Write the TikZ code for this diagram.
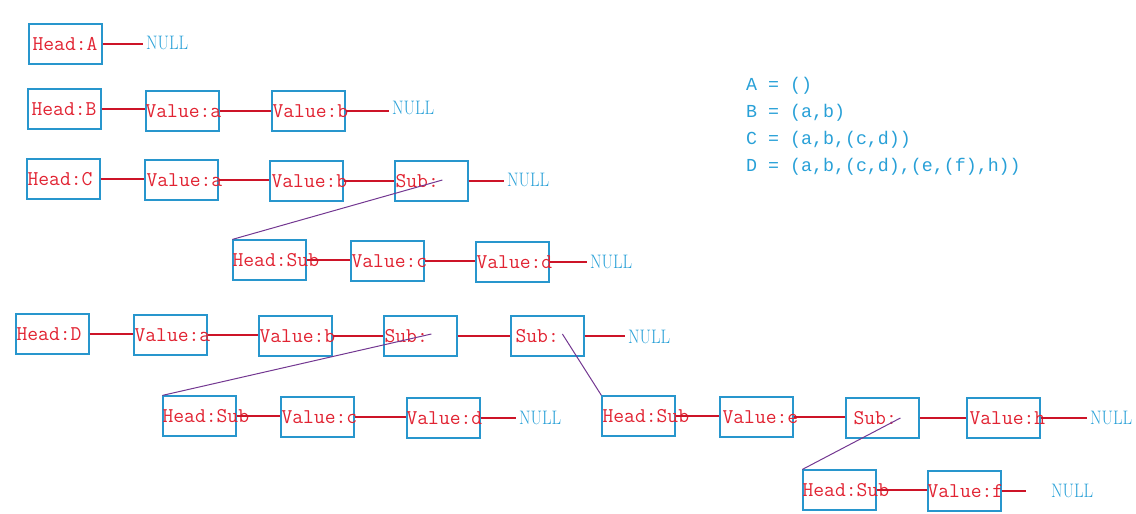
\documentclass[tikz,border=0pt]{standalone}
\usepackage{fontspec}
\usepackage{graphicx}
\newfontfamily\legendfont{Liberation Mono}
\definecolor{boxblue}{RGB}{40,150,205}
\definecolor{txtred}{RGB}{225,35,50}
\definecolor{linkred}{RGB}{205,20,40}
\definecolor{subpurple}{RGB}{115,55,145}
\definecolor{nullblue}{RGB}{40,160,215}
\tikzset{
  box/.style={draw=boxblue, line width=1.2pt, minimum width=73pt, minimum height=40pt, inner sep=0pt},
  txt/.style={font=\fontsize{21}{21}\selectfont\ttfamily, text=txtred, inner sep=0pt, anchor=base west},
  nul/.style={font=\fontsize{19.5}{19.5}\selectfont, text=nullblue, inner ysep=0pt, inner xsep=3pt, anchor=west},
  link/.style={draw=linkred, line width=1.2pt},
  sublink/.style={draw=subpurple, line width=1pt},
  legend/.style={font=\fontsize{18.3}{18.3}\selectfont\legendfont, text=nullblue, inner sep=0pt, anchor=west}
}
\newcommand\bx[5]{%
  \node[box] (#1) at (#2,#3) {};
  \node[txt] (#1t) at ([xshift=#4pt,yshift=-6.5pt]#1.west) {#5};}
\newcommand\nulltext{\scalebox{0.85}[1]{NULL}}
\begin{document}
\begin{tikzpicture}[x=1pt,y=-1pt]
\useasboundingbox (0,0) rectangle (1136,514);
% Row A
\bx{a0}{65.5}{44}{4}{Head:A}
\node[nul] (na) at (143,43) {\nulltext};
% Row B
\bx{b0}{64.5}{109}{4}{Head:B}
\bx{b1}{182.5}{111}{0}{Value:a}
\bx{b2}{308.5}{111}{1}{Value:b}
\node[nul] (nb) at (389,108) {\nulltext};
% Row C
\bx{c0}{63.5}{179}{1}{Head:C}
\bx{c1}{181.5}{180}{2}{Value:a}
\bx{c2}{306.5}{181}{2}{Value:b}
\bx{c3}{431.5}{181}{1}{Sub:}
\node[nul] (nc) at (504,180) {\nulltext};
\bx{cs0}{269.5}{260}{0}{Head:Sub}
\bx{cs1}{387.5}{261}{1}{Value:c}
\bx{cs2}{512.5}{262}{1}{Value:d}
\node[nul] (ncs) at (587,262) {\nulltext};
% Row D
\bx{d0}{52.5}{334}{1}{Head:D}
\bx{d1}{170.5}{335}{1}{Value:a}
\bx{d2}{295.5}{336}{1}{Value:b}
\bx{d3}{420.5}{336}{1}{Sub:}
\bx{d4}{547.5}{336}{5}{Sub:}
\node[nul] (nd) at (625,337) {\nulltext};
\bx{ds0}{199.5}{416}{0}{Head:Sub}
\bx{ds1}{317.5}{417}{1}{Value:c}
\bx{ds2}{443.5}{418}{0}{Value:d}
\node[nul] (nds) at (516,418) {\nulltext};
\bx{de0}{638.5}{416}{1}{Head:Sub}
\bx{de1}{756.5}{417}{3}{Value:e}
\bx{de2}{882.5}{418}{8}{Sub:}
\bx{de3}{1003.5}{418}{3}{Value:h}
\node[nul] (nde) at (1087,418) {\nulltext};
\bx{df0}{839.5}{490}{0}{Head:Sub}
\bx{df1}{964.5}{491}{0}{Value:f}
\node[nul, inner xsep=25pt] (ndf) at (1026,491) {\nulltext};
% Legend
\node[legend] (lA) at (746,86) {A = ()};
\node[legend] (lB) at (746,113) {B = (a,b)};
\node[legend] (lC) at (746,140) {C = (a,b,(c,d))};
\node[legend] (lD) at (746,167) {D = (a,b,(c,d),(e,(f),h))};
% sub pointers
\coordinate (c3p) at ([xshift=48pt,yshift=1pt]c3.west);
\coordinate (d3p) at ([xshift=48pt,yshift=2pt]d3.west);
\coordinate (d4p) at ([xshift=52pt,yshift=2pt]d4.west);
\coordinate (de2p) at ([xshift=55pt]de2.west);
% links
\draw[link] (a0.east) -- (a0.east -| na.west);
\draw[link] (b0.east) -- (b0.east -| b1.west);
\draw[link] (b1.east) -- (b1.east -| b2.west);
\draw[link] (b2.east) -- (b2.east -| nb.west);
\draw[link] (c0.east) -- (c0.east -| c1.west);
\draw[link] (c1.east) -- (c1.east -| c2.west);
\draw[link] (c2.east) -- (c2.east -| c3.west);
\draw[link] (c3.east) -- (c3.east -| nc.west);
\draw[link] (cs0.east) -- (cs0.east -| cs1.west);
\draw[link] (cs1.east) -- (cs1.east -| cs2.west);
\draw[link] (cs2.east) -- (cs2.east -| ncs.west);
\draw[link] (d0.east) -- (d0.east -| d1.west);
\draw[link] (d1.east) -- (d1.east -| d2.west);
\draw[link] (d2.east) -- (d2.east -| d3.west);
\draw[link] (d3.east) -- (d3.east -| d4.west);
\draw[link] (d4.east) -- (d4.east -| nd.west);
\draw[link] (ds0.east) -- (ds0.east -| ds1.west);
\draw[link] (ds1.east) -- (ds1.east -| ds2.west);
\draw[link] (ds2.east) -- (ds2.east -| nds.west);
\draw[link] (de0.east) -- (de0.east -| de1.west);
\draw[link] (de1.east) -- (de1.east -| de2.west);
\draw[link] (de2.east) -- (de2.east -| de3.west);
\draw[link] (de3.east) -- (de3.east -| nde.west);
\draw[link] (df0.east) -- (df0.east -| df1.west);
\draw[link] (df1.east) -- (df1.east -| ndf.west);
\draw[sublink] (c3p) -- (cs0.north west);
\draw[sublink] (d3p) -- (ds0.north west);
\draw[sublink] (d4p) -- (de0.north west);
\draw[sublink] (de2p) -- (df0.north west);
\end{tikzpicture}
\end{document}
